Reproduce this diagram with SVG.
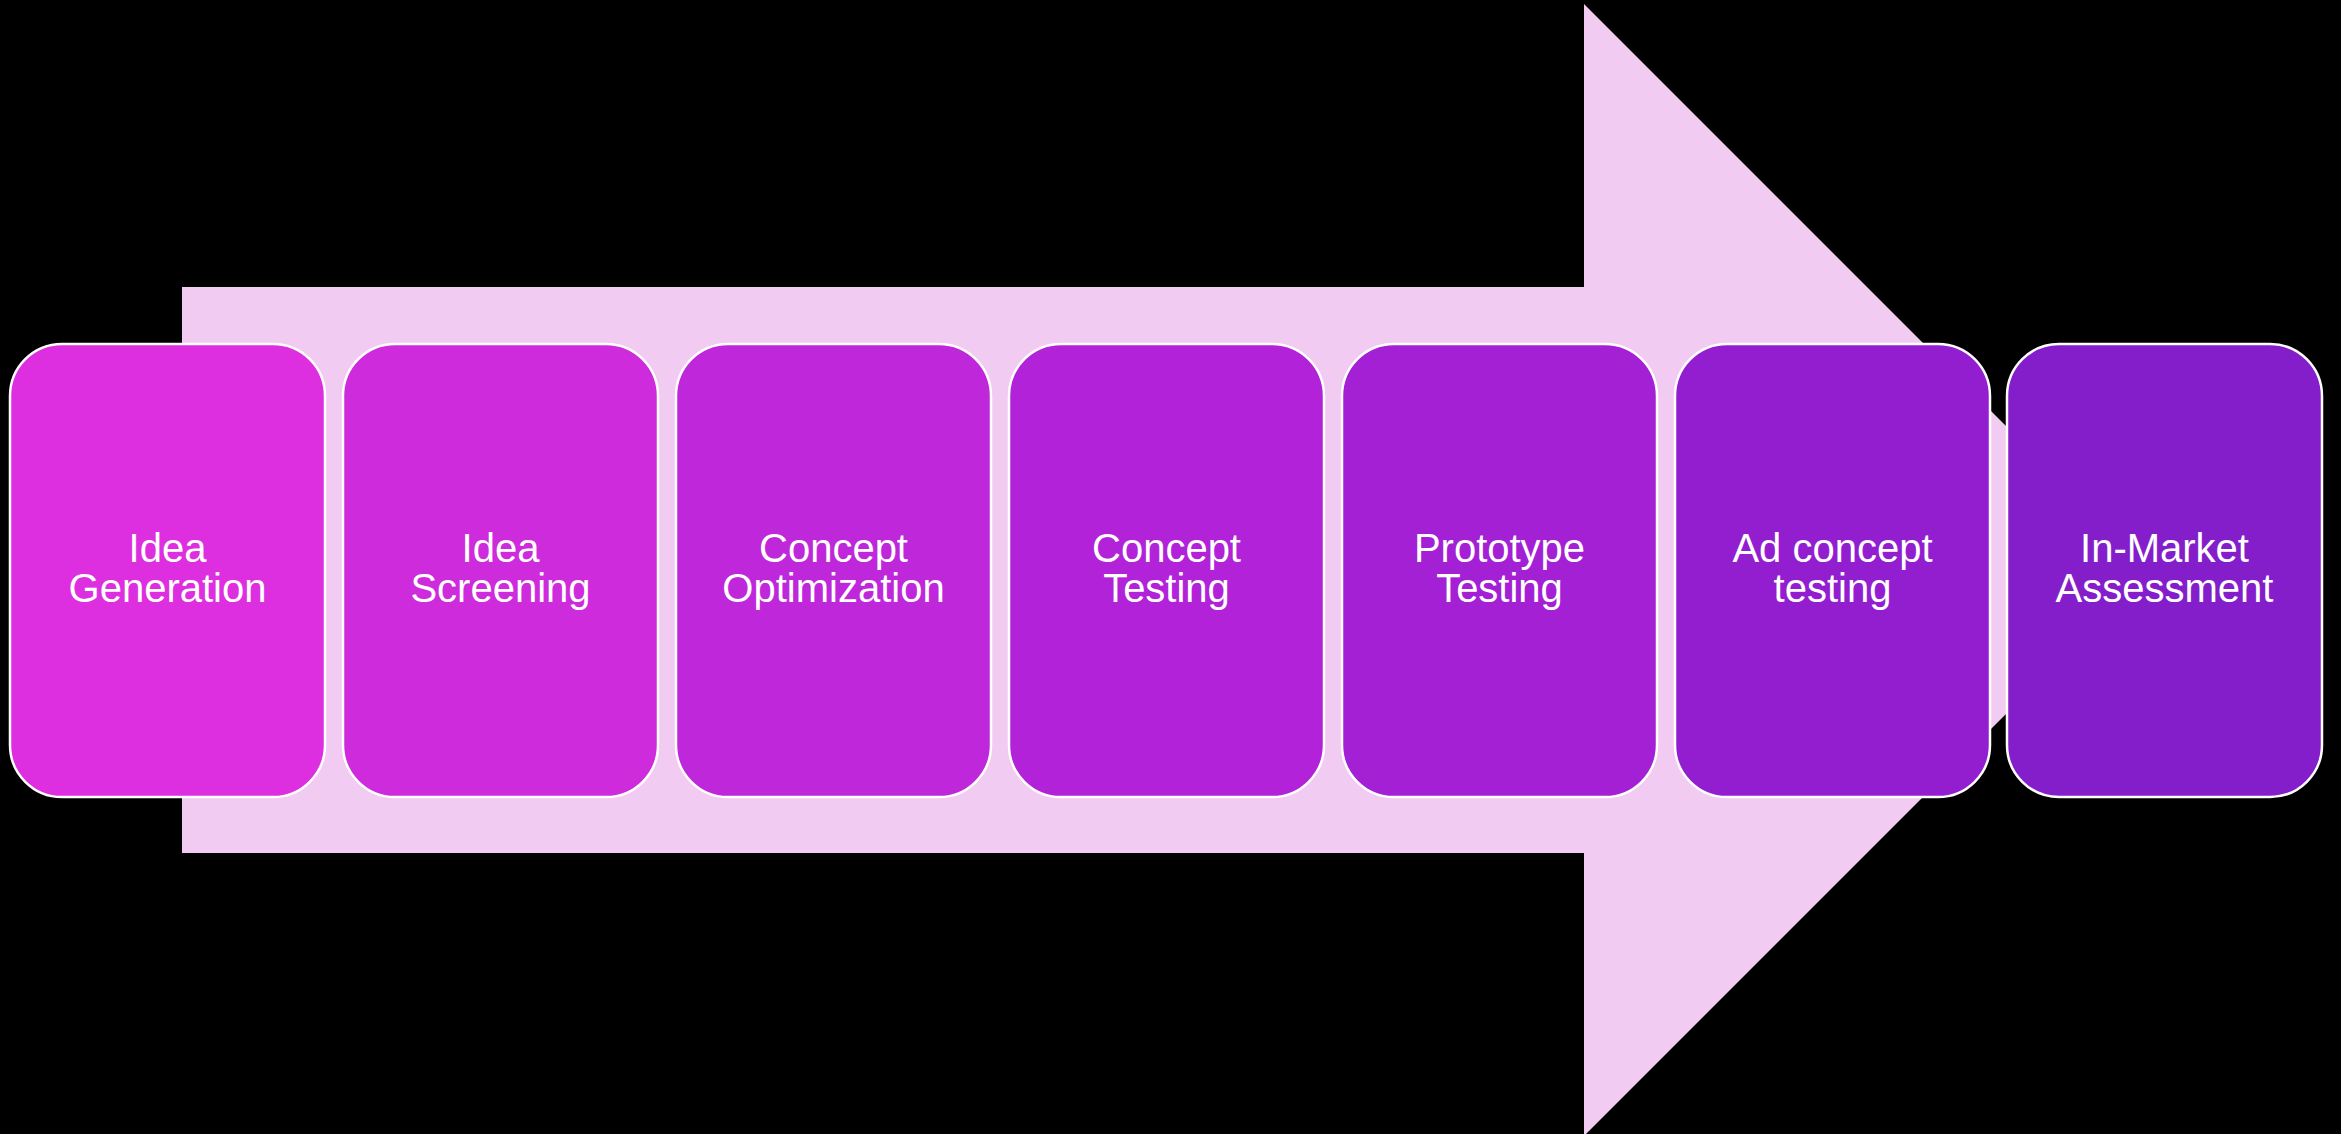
<svg xmlns="http://www.w3.org/2000/svg" width="2341" height="1134" viewBox="0 0 2341 1134">
<style>
.box{stroke:#ffffff;stroke-width:2.5}
.lbl{font-family:"Liberation Sans",Arial,sans-serif;font-size:40px;fill:#ffffff;text-anchor:middle}
</style>
<rect x="0" y="0" width="2341" height="1134" fill="#000000"/>
<g id="connectors">
<polygon id="big-arrow" points="182,287 1584,287 1584,4 2150,570 1584,1136 1584,853 182,853" fill="#F2CBF2"/>
</g>
<g id="n1"><rect class="box" x="10" y="344" width="315" height="453" rx="52" fill="#DD2FDF"/><text class="lbl" x="167.5" y="562">Idea</text><text class="lbl" x="167.5" y="602">Generation</text></g>
<g id="n2"><rect class="box" x="343" y="344" width="315" height="453" rx="52" fill="#CE2BDC"/><text class="lbl" x="500.5" y="562">Idea</text><text class="lbl" x="500.5" y="602">Screening</text></g>
<g id="n3"><rect class="box" x="676" y="344" width="315" height="453" rx="52" fill="#BF27DA"/><text class="lbl" x="833.5" y="562">Concept</text><text class="lbl" x="833.5" y="602">Optimization</text></g>
<g id="n4"><rect class="box" x="1009" y="344" width="315" height="453" rx="52" fill="#B122D8"/><text class="lbl" x="1166.5" y="562">Concept</text><text class="lbl" x="1166.5" y="602">Testing</text></g>
<g id="n5"><rect class="box" x="1342" y="344" width="315" height="453" rx="52" fill="#A320D5"/><text class="lbl" x="1499.5" y="562">Prototype</text><text class="lbl" x="1499.5" y="602">Testing</text></g>
<g id="n6"><rect class="box" x="1675" y="344" width="315" height="453" rx="52" fill="#931ED0"/><text class="lbl" x="1832.5" y="562">Ad concept</text><text class="lbl" x="1832.5" y="602">testing</text></g>
<g id="n7"><rect class="box" x="2007" y="344" width="315" height="453" rx="52" fill="#841ECB"/><text class="lbl" x="2164.5" y="562">In-Market</text><text class="lbl" x="2164.5" y="602">Assessment</text></g>
</svg>
